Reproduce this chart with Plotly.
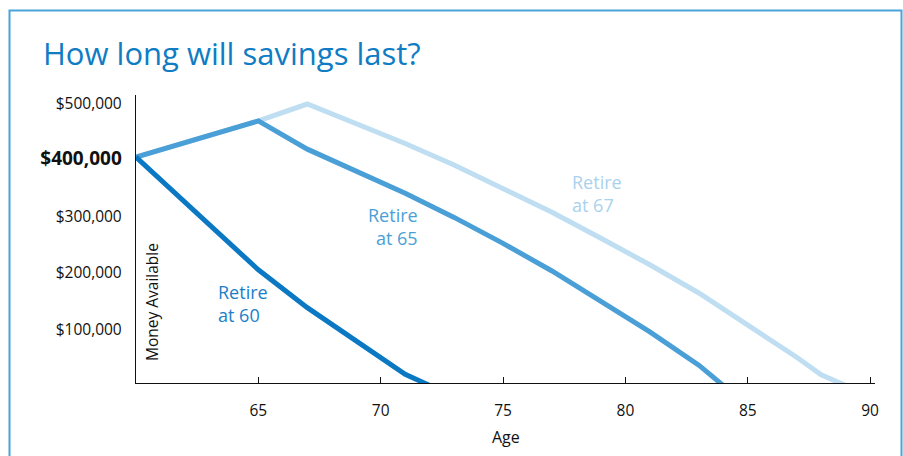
import plotly.graph_objects as go

# ---- data ----
ages_60 = [60, 65, 67, 71, 72]
money_60 = [405000, 205000, 138000, 20000, 0]

ages_65 = [60, 65, 67, 69, 71, 73, 75, 77, 79, 81, 83, 84]
money_65 = [405000, 469000, 419000, 381000, 341000, 298000, 252000, 203000,
            150000, 95000, 36000, 0]

ages_67 = [60, 65, 67, 69, 71, 73, 75, 77, 79, 81, 83, 85, 87, 88, 89]
money_67 = [405000, 469000, 499000, 465000, 429000, 391000, 350000, 307000,
            261000, 214000, 164000, 108000, 50000, 19000, 0]

x_ticks = [65, 70, 75, 80, 85, 90]
y_tick_vals = [100000, 200000, 300000, 400000, 500000]
y_tick_text = ["$100,000", "$200,000", "$300,000",
               "<b><span style='font-size:19px'>$400,000</span></b>", "$500,000"]

series_labels = ["Retire<br>at 60", "Retire<br>at 65", "Retire<br>at 67"]

# ---- styling ----
C60 = "#0a78c3"
C65 = "#4a9fd6"
C67 = "#bfdef2"
FONT = "Open Sans"

W, H = 903, 456
L, R, T, B = 136, 28, 95, 73
pw, ph = W - L - R, H - T - B


def px_x(p):
    return (p - L) / pw


def px_y(p):
    return (H - B - p) / ph


fig = go.Figure()
fig.add_trace(go.Scatter(x=ages_67, y=money_67, mode="lines",
                         line=dict(color=C67, width=5), name="Retire at 67"))
fig.add_trace(go.Scatter(x=ages_65, y=money_65, mode="lines",
                         line=dict(color=C65, width=5), name="Retire at 65"))
fig.add_trace(go.Scatter(x=ages_60, y=money_60, mode="lines",
                         line=dict(color=C60, width=5), name="Retire at 60"))

annotations = [
    dict(text="How long will savings last?", xref="paper", yref="paper",
         x=px_x(41), y=px_y(53), xanchor="left", yanchor="middle", showarrow=False,
         font=dict(family=FONT, size=31, color="#0f7cc4")),
    dict(text="Age", xref="paper", yref="paper", x=0.5, y=px_y(437),
         xanchor="center", yanchor="middle", showarrow=False,
         font=dict(family=FONT, size=16, color="#111")),
    dict(text="Money Available", xref="paper", yref="paper", x=px_x(152), y=px_y(302),
         xanchor="center", yanchor="middle", textangle=-90, showarrow=False,
         font=dict(family=FONT, size=15.5, color="#111")),
    dict(text=series_labels[0], x=63.25, y=146000, xanchor="left", yanchor="middle",
         align="left", showarrow=False, font=dict(family=FONT, size=18, color="#1a80c8")),
    dict(text=series_labels[1], x=71.6, y=282000, xanchor="right", yanchor="middle",
         align="right", showarrow=False, font=dict(family=FONT, size=18, color=C65)),
    dict(text=series_labels[2], x=77.74, y=341000, xanchor="left", yanchor="middle",
         align="left", showarrow=False, font=dict(family=FONT, size=18, color="#a9d2ee")),
]

fig.update_layout(
    width=W, height=H,
    margin=dict(l=L, r=R, t=T, b=B, pad=0),
    paper_bgcolor="white", plot_bgcolor="white",
    showlegend=False,
    annotations=annotations,
    font=dict(family=FONT, size=15, color="#111"),
    shapes=[dict(type="rect", xref="paper", yref="paper",
                 x0=px_x(9.5), x1=px_x(901.5), y0=px_y(480), y1=px_y(10.5),
                 line=dict(color="#4aa3d8", width=2), fillcolor="rgba(0,0,0,0)",
                 layer="below")],
)
fig.update_xaxes(range=[60, 90.2], showgrid=False, zeroline=False,
                 showline=True, linecolor="#111", linewidth=1.3,
                 ticks="inside", ticklen=6, tickwidth=1.3, tickcolor="#111",
                 tickvals=x_ticks, ticklabelstandoff=13,
                 tickfont=dict(family=FONT, size=15.5, color="#111"))
fig.update_yaxes(range=[4400, 515000], showgrid=False, zeroline=False,
                 showline=True, linecolor="#111", linewidth=1.3,
                 ticks="", tickvals=y_tick_vals, ticktext=y_tick_text,
                 ticklabelstandoff=10,
                 tickfont=dict(family=FONT, size=15.5, color="#111"))

fig.write_html("out.html", config={"displayModeBar": False},
               post_script="document.body.style.margin='0';document.body.style.overflow='hidden';")
